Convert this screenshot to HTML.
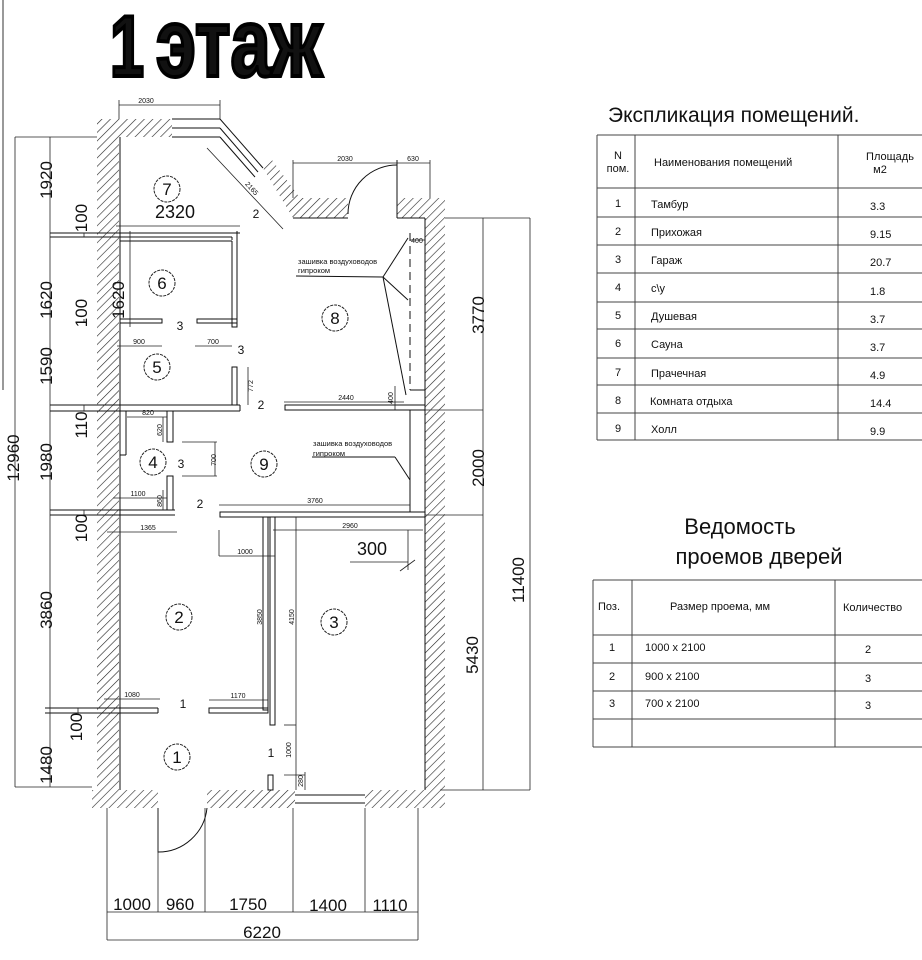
<!DOCTYPE html>
<html><head><meta charset="utf-8"><style>
html,body{margin:0;padding:0;background:#fff;}
svg{display:block;}
text{font-family:"Liberation Sans",sans-serif;fill:#111;}
</style></head><body>
<svg width="922" height="960" viewBox="0 0 922 960" xmlns="http://www.w3.org/2000/svg">
<defs>
<pattern id="h" width="6" height="6" patternUnits="userSpaceOnUse" patternTransform="rotate(45)">
<rect width="6" height="6" fill="#fff"/><line x1="0" y1="0" x2="0" y2="6" stroke="#222" stroke-width="1.2"/>
</pattern>
</defs>
<!-- title -->
<text x="110" y="76" font-weight="bold" font-size="86" fill="#000" stroke="#000" stroke-width="4" textLength="34" lengthAdjust="spacingAndGlyphs" style="font-family:'Liberation Sans Narrow',sans-serif">1</text>
<text x="0" y="0" font-weight="bold" font-size="86" fill="#000" stroke="#000" stroke-width="3.5" transform="translate(156,76) scale(1,1.12)" textLength="166" lengthAdjust="spacingAndGlyphs" style="font-family:'Liberation Sans Narrow',sans-serif">этаж</text>
<line x1="3" y1="0" x2="3" y2="390" stroke="#333" stroke-width="1"/>

<g stroke="#111" fill="none" stroke-width="1">
<rect x="97" y="119" width="75" height="18" fill="url(#h)" stroke="none"/>
<rect x="97" y="119" width="22" height="689" fill="url(#h)" stroke="none"/>
<polygon points="263,168 272,160 300,198 293,218" fill="url(#h)" stroke="none"/>
<rect x="293" y="198" width="55" height="20" fill="url(#h)" stroke="none"/>
<rect x="397" y="198" width="48" height="20" fill="url(#h)" stroke="none"/>
<rect x="425" y="198" width="20" height="610" fill="url(#h)" stroke="none"/>
<rect x="92" y="790" width="66" height="18" fill="url(#h)" stroke="none"/>
<rect x="207" y="790" width="88" height="18" fill="url(#h)" stroke="none"/>
<rect x="365" y="790" width="75" height="18" fill="url(#h)" stroke="none"/>
<line x1="172" y1="119" x2="220" y2="119"/><line x1="172" y1="128" x2="220" y2="128"/><line x1="172" y1="137" x2="220" y2="137"/>
<line x1="220" y1="119" x2="263" y2="168"/><line x1="220" y1="128" x2="258" y2="172"/><line x1="220" y1="137" x2="255" y2="177"/>
<line x1="293" y1="218" x2="348" y2="218"/>
<line x1="397" y1="218" x2="425" y2="218"/>
<line x1="120" y1="137" x2="120" y2="790"/>
<line x1="425" y1="218" x2="425" y2="790"/>
<path d="M397,165 A49,49 0 0 0 348,214"/><line x1="397" y1="160" x2="397" y2="218"/>
<line x1="295" y1="795" x2="365" y2="795"/><line x1="295" y1="803" x2="365" y2="803"/>
<path d="M158,808 L158,852 A49,49 0 0 0 207,808"/>
<line x1="50" y1="233" x2="240" y2="233"/><line x1="50" y1="237" x2="232" y2="237"/>
<path d="M232,237 L232,240 M237,231 L237,327 L232,327 L232,241 M120,241 L232,241" />
<rect x="120" y="319" width="42" height="4"/><rect x="197" y="319" width="40" height="4"/>
<rect x="232" y="367" width="5" height="38"/>
<line x1="50" y1="405" x2="240" y2="405"/><line x1="50" y1="411" x2="240" y2="411"/><line x1="240" y1="405" x2="240" y2="411"/>
<rect x="285" y="405" width="140" height="5"/>
<rect x="167" y="411" width="6" height="31"/><rect x="167" y="476" width="6" height="34"/>
<line x1="50" y1="510" x2="175" y2="510"/><line x1="50" y1="515" x2="175" y2="515"/>
<rect x="220" y="512" width="205" height="5"/>
<rect x="263" y="517" width="5" height="193"/><rect x="270" y="517" width="5" height="208"/>
<line x1="45" y1="708" x2="158" y2="708"/><line x1="45" y1="713" x2="158" y2="713"/><line x1="158" y1="708" x2="158" y2="713"/>
<rect x="209" y="708" width="59" height="5"/>
<rect x="268" y="775" width="5" height="15"/>
<line x1="410" y1="233" x2="410" y2="390" stroke-dasharray="8,5"/>
<line x1="410" y1="390" x2="425" y2="390"/>
<line x1="383" y1="277" x2="408" y2="238"/><line x1="383" y1="277" x2="408" y2="300"/><line x1="383" y1="277" x2="406" y2="395"/>
<line x1="296" y1="276" x2="383" y2="277"/>
<line x1="312" y1="457" x2="395" y2="457"/><line x1="395" y1="457" x2="410" y2="480"/>
<line x1="410" y1="410" x2="410" y2="512"/>
<line x1="126" y1="411" x2="126" y2="455"/><line x1="120" y1="455" x2="126" y2="455"/>
</g>
<g stroke="#222" fill="none" stroke-width="0.8">
<line x1="119" y1="105" x2="220" y2="105"/><line x1="119" y1="100" x2="119" y2="119"/><line x1="220" y1="100" x2="220" y2="119"/>
<line x1="207" y1="148" x2="283" y2="229"/>
<line x1="293" y1="163" x2="430" y2="163"/><line x1="293" y1="160" x2="293" y2="198"/><line x1="430" y1="160" x2="430" y2="198"/>
<line x1="116" y1="226" x2="240" y2="226"/>
<line x1="130" y1="231" x2="130" y2="327"/>
<line x1="117" y1="346" x2="162" y2="346"/><line x1="195" y1="346" x2="232" y2="346"/>
<line x1="248" y1="367" x2="248" y2="405"/>
<line x1="284" y1="402" x2="404" y2="402"/><line x1="395" y1="386" x2="395" y2="410"/>
<line x1="410" y1="240" x2="425" y2="240"/>
<line x1="127" y1="417" x2="167" y2="417"/><line x1="163" y1="417" x2="163" y2="442"/>
<line x1="182" y1="442" x2="217" y2="442"/><line x1="182" y1="476" x2="217" y2="476"/><line x1="215" y1="442" x2="215" y2="476"/>
<line x1="113" y1="498" x2="167" y2="498"/><line x1="163" y1="490" x2="163" y2="510"/>
<line x1="219" y1="505" x2="410" y2="505"/>
<line x1="107" y1="532" x2="177" y2="532"/>
<line x1="273" y1="530" x2="423" y2="530"/><line x1="408" y1="530" x2="408" y2="570"/><line x1="350" y1="562" x2="408" y2="562"/><line x1="400" y1="571" x2="415" y2="560"/>
<line x1="219" y1="556" x2="275" y2="556"/><line x1="219" y1="530" x2="219" y2="556"/>
<line x1="296" y1="517" x2="296" y2="790"/>
<line x1="284" y1="725" x2="296" y2="725"/><line x1="284" y1="775" x2="305" y2="775"/>
<line x1="305" y1="772" x2="305" y2="790"/>
<line x1="104" y1="699" x2="160" y2="699"/><line x1="209" y1="700" x2="268" y2="700"/>
<line x1="15" y1="137" x2="15" y2="787"/><line x1="15" y1="137" x2="97" y2="137"/><line x1="15" y1="787" x2="92" y2="787"/>
<line x1="50" y1="137" x2="50" y2="787"/>
<line x1="84" y1="233" x2="84" y2="237"/><line x1="84" y1="319" x2="84" y2="323"/><line x1="84" y1="405" x2="84" y2="411"/><line x1="84" y1="510" x2="84" y2="515"/><line x1="78" y1="708" x2="78" y2="713"/>
<line x1="445" y1="218" x2="530" y2="218"/><line x1="483" y1="218" x2="483" y2="790"/><line x1="530" y1="218" x2="530" y2="790"/>
<line x1="425" y1="410" x2="483" y2="410"/><line x1="425" y1="515" x2="483" y2="515"/><line x1="440" y1="790" x2="530" y2="790"/>
<line x1="107" y1="808" x2="107" y2="940"/><line x1="158" y1="808" x2="158" y2="912"/><line x1="205" y1="808" x2="205" y2="912"/><line x1="293" y1="808" x2="293" y2="912"/><line x1="365" y1="808" x2="365" y2="912"/><line x1="418" y1="808" x2="418" y2="940"/>
<line x1="107" y1="912" x2="418" y2="912"/><line x1="107" y1="940" x2="418" y2="940"/>
</g>
<g fill="none" stroke="#222" stroke-width="1" stroke-dasharray="3,1">
<circle cx="167" cy="189" r="13"/><circle cx="162" cy="283" r="13"/><circle cx="157" cy="367" r="13"/><circle cx="153" cy="462" r="13"/><circle cx="264" cy="464" r="13"/><circle cx="335" cy="318" r="13"/><circle cx="179" cy="617" r="13"/><circle cx="334" cy="622" r="13"/><circle cx="177" cy="757" r="13"/>
</g>
<g font-size="17" text-anchor="middle">
<text x="167" y="195">7</text><text x="162" y="289">6</text><text x="157" y="373">5</text><text x="153" y="468">4</text><text x="264" y="470">9</text><text x="335" y="324">8</text><text x="179" y="623">2</text><text x="334" y="628">3</text><text x="177" y="763">1</text>
<text x="175" y="218" font-size="18">2320</text>
<text x="372" y="555" font-size="18">300</text>
</g>
<g font-size="12" text-anchor="middle">
<text x="256" y="218">2</text><text x="180" y="330">3</text><text x="241" y="354">3</text><text x="261" y="409">2</text><text x="181" y="468">3</text><text x="200" y="508">2</text><text x="183" y="708">1</text><text x="271" y="757">1</text>
</g>
<g font-size="7" text-anchor="middle">
<text x="146" y="103">2030</text><text x="345" y="161">2030</text><text x="413" y="161">630</text>
<text x="250" y="190" transform="rotate(48 250 190)">2165</text>
<text x="139" y="344">900</text><text x="213" y="344">700</text>
<text x="346" y="400">2440</text><text x="417" y="243">400</text>
<text x="148" y="415">820</text><text x="138" y="496">1100</text>
<text x="315" y="503">3760</text><text x="148" y="530">1365</text><text x="350" y="528">2960</text><text x="245" y="554">1000</text>
<text x="132" y="697">1080</text><text x="238" y="698">1170</text>
<g><text transform="translate(253,386) rotate(-90)">772</text><text transform="translate(393,398) rotate(-90)">400</text><text transform="translate(162,430) rotate(-90)">620</text><text transform="translate(216,460) rotate(-90)">700</text><text transform="translate(162,501) rotate(-90)">860</text><text transform="translate(262,617) rotate(-90)">3850</text><text transform="translate(294,617) rotate(-90)">4150</text><text transform="translate(291,750) rotate(-90)">1000</text><text transform="translate(303,781) rotate(-90)">280</text></g>
</g>
<g font-size="7.5">
<text x="298" y="264">зашивка воздуховодов</text><text x="298" y="273">гипроком</text>
<text x="313" y="446">зашивка воздуховодов</text><text x="313" y="456">гипроком</text>
</g>
<g font-size="17" text-anchor="middle">
<text transform="translate(52,180) rotate(-90)">1920</text>
<text transform="translate(87,218) rotate(-90)">100</text>
<text transform="translate(52,300) rotate(-90)">1620</text>
<text transform="translate(124,300) rotate(-90)">1620</text>
<text transform="translate(87,313) rotate(-90)">100</text>
<text transform="translate(52,366) rotate(-90)">1590</text>
<text transform="translate(87,425) rotate(-90)">110</text>
<text transform="translate(52,462) rotate(-90)">1980</text>
<text transform="translate(87,528) rotate(-90)">100</text>
<text transform="translate(52,610) rotate(-90)">3860</text>
<text transform="translate(82,727) rotate(-90)">100</text>
<text transform="translate(52,765) rotate(-90)">1480</text>
<text transform="translate(19,458) rotate(-90)">12960</text>
<text transform="translate(484,315) rotate(-90)">3770</text>
<text transform="translate(484,468) rotate(-90)">2000</text>
<text transform="translate(478,655) rotate(-90)">5430</text>
<text transform="translate(524,580) rotate(-90)">11400</text>
<text x="132" y="910">1000</text><text x="180" y="910">960</text><text x="248" y="910">1750</text><text x="328" y="911">1400</text><text x="390" y="911">1110</text>
<text x="262" y="938">6220</text>
</g>
<text x="608" y="122" font-size="21">Экспликация помещений.</text>
<g stroke="#444" stroke-width="1" fill="none">
<line x1="597" y1="135" x2="922" y2="135"/><line x1="597" y1="188" x2="922" y2="188"/><line x1="597" y1="217" x2="922" y2="217"/><line x1="597" y1="245" x2="922" y2="245"/><line x1="597" y1="273" x2="922" y2="273"/><line x1="597" y1="302" x2="922" y2="302"/><line x1="597" y1="329" x2="922" y2="329"/><line x1="597" y1="358" x2="922" y2="358"/><line x1="597" y1="385" x2="922" y2="385"/><line x1="597" y1="413" x2="922" y2="413"/><line x1="597" y1="440" x2="922" y2="440"/>
<line x1="597" y1="135" x2="597" y2="440"/><line x1="635" y1="135" x2="635" y2="440"/><line x1="838" y1="135" x2="838" y2="440"/>
</g>
<g font-size="11">
<text x="618" y="159" text-anchor="middle">N</text><text x="618" y="172" text-anchor="middle">пом.</text>
<text x="654" y="166">Наименования помещений</text>
<text x="890" y="160" text-anchor="middle">Площадь</text><text x="880" y="173" text-anchor="middle">м2</text>
<g text-anchor="middle"><text x="618" y="207">1</text><text x="618" y="235">2</text><text x="618" y="263">3</text><text x="618" y="291">4</text><text x="618" y="319">5</text><text x="618" y="347">6</text><text x="618" y="376">7</text><text x="618" y="404">8</text><text x="618" y="432">9</text></g>
<text x="651" y="208">Тамбур</text><text x="651" y="236">Прихожая</text><text x="651" y="264">Гараж</text><text x="651" y="292">с\у</text><text x="651" y="320">Душевая</text><text x="651" y="348">Сауна</text><text x="651" y="377">Прачечная</text><text x="650" y="405">Комната отдыха</text><text x="651" y="433">Холл</text>
<text x="870" y="210">3.3</text><text x="870" y="238">9.15</text><text x="870" y="266">20.7</text><text x="870" y="295">1.8</text><text x="870" y="323">3.7</text><text x="870" y="351">3.7</text><text x="870" y="379">4.9</text><text x="870" y="407">14.4</text><text x="870" y="435">9.9</text>
</g>
<text x="740" y="534" font-size="22" text-anchor="middle">Ведомость</text>
<text x="759" y="564" font-size="22" text-anchor="middle">проемов  дверей</text>
<g stroke="#444" stroke-width="1" fill="none">
<line x1="593" y1="580" x2="922" y2="580"/><line x1="593" y1="635" x2="922" y2="635"/><line x1="593" y1="663" x2="922" y2="663"/><line x1="593" y1="691" x2="922" y2="691"/><line x1="593" y1="719" x2="922" y2="719"/><line x1="593" y1="747" x2="922" y2="747"/>
<line x1="593" y1="580" x2="593" y2="747"/><line x1="632" y1="580" x2="632" y2="747"/><line x1="835" y1="580" x2="835" y2="747"/>
</g>
<g font-size="11">
<text x="598" y="610">Поз.</text><text x="670" y="610">Размер проема, мм</text><text x="843" y="611">Количество</text>
<text x="612" y="651" text-anchor="middle">1</text><text x="612" y="680" text-anchor="middle">2</text><text x="612" y="707" text-anchor="middle">3</text>
<text x="645" y="651">1000 x 2100</text><text x="645" y="680">900 x 2100</text><text x="645" y="707">700 x 2100</text>
<text x="865" y="653">2</text><text x="865" y="682">3</text><text x="865" y="709">3</text>
</g>
</svg>
</body></html>
